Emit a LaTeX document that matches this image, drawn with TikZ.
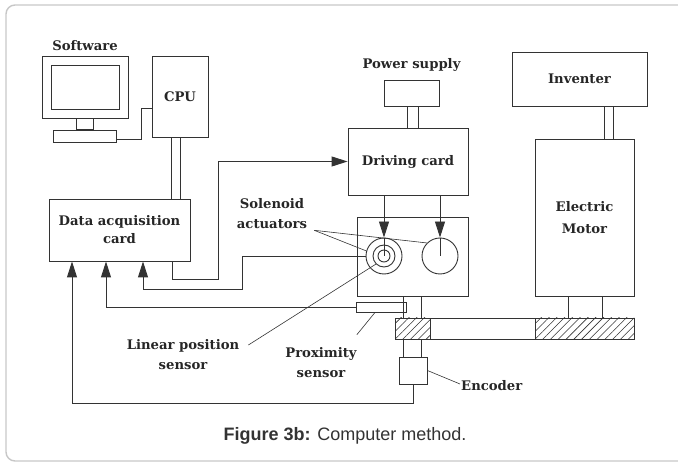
\documentclass[tikz,border=0pt]{standalone}
\usepackage{fontspec}
\newfontfamily\capfont{Liberation Sans}
\newfontfamily\lblfont{DejaVu Serif}
\usetikzlibrary{
    arrows.meta,
    patterns.meta,
    positioning,
}
\colorlet{LineGray}{black!80}
\colorlet{FrameGray}{black!22}
\tikzstyle{box}=[draw=LineGray,rectangle,line width=0.9pt,inner sep=0pt]
\tikzstyle{lbl}=[font=\lblfont\bfseries\fontsize{13.2}{20}\selectfont,text=black!85,align=center,inner sep=1pt]
\tikzstyle{wire}=[draw=LineGray,line width=0.9pt]
\tikzstyle{sig}=[wire,-{Triangle[length=16pt,width=10pt]}]
\tikzstyle{lead}=[draw=LineGray,line width=0.6pt]
\tikzstyle{hatched}=[box,pattern={Lines[angle=45,distance=5.5pt,line width=0.6pt]},pattern color=LineGray]

\begin{document}
\begin{tikzpicture}[x=1pt,y=-1pt]
    \useasboundingbox (0,0) rectangle (678,462);

    % Frame
    \begin{scope}
        \clip (0,0) rectangle (678,462);
        \draw[FrameGray,line width=1.4pt,rounded corners=9pt] (6,5) rectangle (692,461);
    \end{scope}

    % Computer
    \node[box,minimum width=86pt,minimum height=62pt] (monitor) at (85,87) {};
    \node[box,minimum width=68pt,minimum height=44pt] (screen) at (monitor.center) {};
    \node[box,minimum width=17pt,minimum height=11pt,below=0pt of monitor] (stand) {};
    \node[box,minimum width=63pt,minimum height=12pt,below=0pt of stand] (keyboard) {};
    \node[lbl,above=4pt of monitor] (software) {Software};
    \node[box,lbl,minimum width=56pt,minimum height=81pt] (cpu) at (180,96.5) {CPU};

    % Cards
    \node[box,lbl,minimum width=141pt,minimum height=62pt] (daq) at (119.5,230) {Data acquisition\\[-2pt]card};
    \node[box,minimum width=55pt,minimum height=26pt] (power) at (411.5,93) {};
    \node[lbl,above=7pt of power] (powerLbl) {Power supply};
    \node[box,lbl,minimum width=120pt,minimum height=67pt] (drive) at (408,161.5) {Driving card};
    \node[box,minimum width=111pt,minimum height=79pt] (act) at (412.5,256.5) {};

    % Motor side
    \node[box,lbl,minimum width=135pt,minimum height=54pt] (inverter) at (579.5,79) {Inventer};
    \node[box,lbl,minimum width=99pt,minimum height=157pt] (motor) at (584.5,217.5) {Electric\\[2pt]Motor};
    \node[box,minimum width=239pt,minimum height=21pt] (shaft) at (514.5,328.5) {};
    \node[hatched,minimum width=35pt,minimum height=21pt] (hatchA) at (412.5,328.5) {};
    \node[hatched,minimum width=99pt,minimum height=21pt] (hatchB) at (584.5,328.5) {};

    % Solenoids
    \node[box,circle,minimum size=36pt] (solA) at (384,256) {};
    \node[box,circle,minimum size=22pt] (solAm) at (solA.center) {};
    \node[box,circle,minimum size=12pt] (solAi) at (solA.center) {};
    \node[box,circle,minimum size=36pt] (solB) at (440,256) {};

    % Sensors
    \node[box,minimum width=50pt,minimum height=10pt] (prox) at (381,307) {};
    \node[box,minimum width=28pt,minimum height=27pt] (enc) at (413,370.5) {};

    % Labels
    \node[lbl] (solLbl) at (272,214) {Solenoid\\actuators};
    \node[lbl] (linLbl) at (183,355) {Linear position\\sensor};
    \node[lbl] (proxLbl) at (321,363) {Proximity\\sensor};
    \node[lbl,anchor=west] (encLbl) at (460,386) {Encoder};

    % Buses
    \foreach \dx in {-9,0}
        \draw[wire] ([xshift=\dx pt]cpu.south) -- ([xshift=\dx pt]cpu.south |- daq.north);
    \foreach \dx in {-4.5,6.5}
        \draw[wire] ([xshift=\dx pt]power.south) -- ([xshift=\dx pt]power.south |- drive.north);
    \foreach \dx in {24.5,33.5}
        \draw[wire] ([xshift=\dx pt]inverter.south) -- ([xshift=\dx pt]inverter.south |- motor.north);

    % Shaft couplings
    \foreach \dx in {-9.5,8.5} {
        \draw[wire] ([xshift=\dx pt]act.south) -- ([xshift=\dx pt]act.south |- shaft.north);
        \draw[wire] ([xshift=\dx pt]act.south |- shaft.south) -- ([xshift=\dx pt]act.south |- enc.north);
    }
    \foreach \dx in {-16.5,17.5}
        \draw[wire] ([xshift=\dx pt]motor.south) -- ([xshift=\dx pt]motor.south |- shaft.north);

    % Signals
    \draw[wire] ([yshift=-3pt]keyboard.east) -- ++(24,0) |- ([yshift=-11.5pt]cpu.west);
    \draw[sig] ([xshift=52.5pt]daq.south) |- (218,279) |- (drive.west);
    \draw[sig] (solA.west) -| (242,289) -| ([xshift=23.5pt]daq.south);
    \draw[sig] (prox.west) -| ([xshift=-13.5pt]daq.south);
    \draw[sig] (enc.south) -- ++(0,19) -| ([xshift=-47.5pt]daq.south);
    \draw[sig] (solA.north |- drive.south) -- (solA.north);
    \draw[wire] (solA.north) -- (solA.center);
    \draw[sig] (solB.north |- drive.south) -- (solB.north);
    \draw[wire] (solB.north) -- (solB.center);

    % Leaders
    \draw[lead] ([xshift=6pt]solLbl.south east) -- (solA.164);
    \draw[lead] ([xshift=6pt]solLbl.south east) -- (solB.135);
    \draw[lead] ([shift={(8pt,10pt)}]linLbl.east) -- (solAm.225);
    \draw[lead] ([shift={(-1pt,12pt)}]proxLbl.north east) -- ([xshift=-6pt]prox.south);
    \draw[lead] (enc.east) -- ([yshift=2pt]encLbl.west);

    % Caption
    \node[font=\capfont\fontsize{18}{22}\selectfont,text=black!80] (caption) at (345,436) {\textbf{Figure 3b:} Computer method.};
\end{tikzpicture}
\end{document}
